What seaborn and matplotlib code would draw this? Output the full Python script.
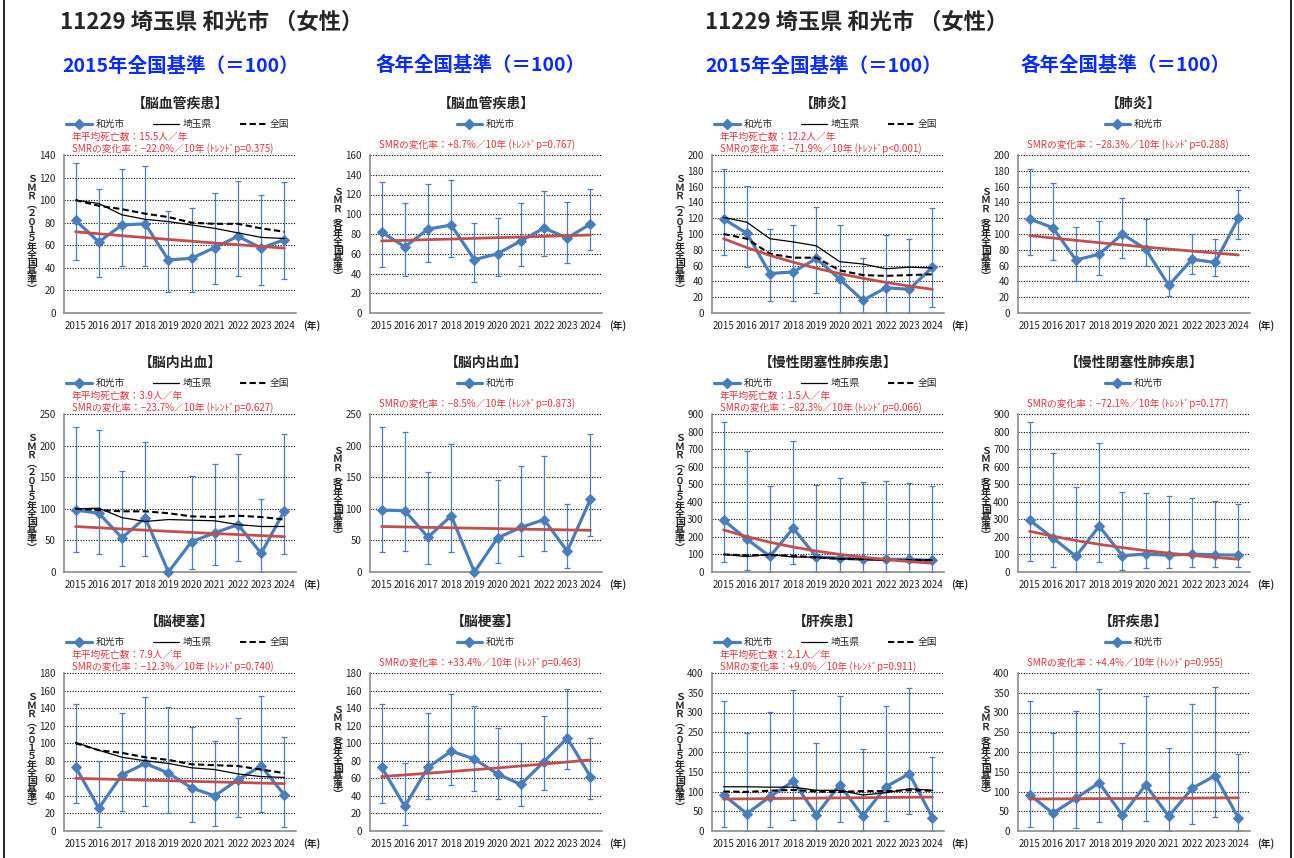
import numpy as np
import matplotlib
matplotlib.use("Agg")
import matplotlib.pyplot as plt
from matplotlib.lines import Line2D
import seaborn as sns

# ---------------------------------------------------------------- data
years = list(range(2015, 2025))

# 脳血管疾患
cvd_fixed_smr = [82, 63, 78, 79, 47, 48.5, 58, 68, 57.5, 65]
cvd_fixed_lo = [47, 32, 42, 42, 19, 19, 26, 33, 25, 30]
cvd_fixed_hi = [133, 110, 128, 130, 90, 93, 106, 117, 105, 116]
cvd_saitama = [100, 97, 87, 83, 81, 78, 75, 71, 67, 66]
cvd_japan = [100, 95, 92, 88, 85, 80, 79, 79, 75, 72]
cvd_fixed_trend = [72, 70.2, 68.5, 66.8, 65.2, 63.6, 62.0, 60.5, 59.0, 57.5]
cvd_annual_smr = [82, 67, 85, 89, 54, 60, 73, 86, 76, 90]
cvd_annual_lo = [47, 37, 52, 57, 31, 37, 48, 58, 51, 64]
cvd_annual_hi = [133, 111, 131, 135, 91, 96, 111, 124, 112, 126]
cvd_annual_trend = [73.0, 73.6, 74.3, 74.9, 75.6, 76.3, 76.9, 77.6, 78.3, 79.0]

# 肺炎
pneu_fixed_smr = [119, 101, 50, 52, 69, 43, 16, 32, 30, 58]
pneu_fixed_lo = [74, 58, 15, 15, 25, 0, 0, 0, 0, 7]
pneu_fixed_hi = [182, 161, 106, 111, 134, 112, 70, 99, 94, 133]
pneu_saitama = [121, 115, 94, 90, 85, 65, 62, 56, 58, 57]
pneu_japan = [100, 94, 75, 70, 70, 54, 48, 47, 48, 49]
pneu_fixed_trend = [94, 82.8, 72.9, 64.3, 56.6, 49.9, 43.9, 38.7, 34.1, 30.0]
pneu_annual_smr = [119, 108, 67, 74.5, 100, 81, 35, 68, 64, 120]
pneu_annual_lo = [74, 67, 41, 48, 69, 59, 22, 50, 47, 94]
pneu_annual_hi = [182, 165, 109, 116, 145, 119, 60, 100, 94, 156]
pneu_annual_trend = [98, 94.9, 91.9, 89.0, 86.2, 83.5, 80.9, 78.4, 75.9, 73.5]

# 脳内出血
ich_fixed_smr = [98, 93, 54, 86, 0, 48, 62, 75, 29.5, 97]
ich_fixed_lo = [32, 28, 10, 25, 0, 5, 11, 18, 0, 28]
ich_fixed_hi = [230, 224, 160, 205, 0, 152, 171, 187, 115, 219]
ich_saitama = [100, 101, 86, 80, 83, 82, 81, 75, 72, 72]
ich_japan = [100, 98, 96, 96, 93, 88, 87, 89, 87, 83]
ich_fixed_trend = [72, 70.0, 68.1, 66.2, 64.4, 62.6, 60.9, 59.2, 57.6, 56.0]
ich_annual_smr = [98, 97, 55, 89, 0, 54, 70.5, 83, 33, 115]
ich_annual_lo = [32, 33, 12, 31, 0, 15, 25, 33, 7, 57]
ich_annual_hi = [230, 222, 159, 203, 0, 146, 167, 183, 108, 218]
ich_annual_trend = [72, 71.3, 70.6, 69.9, 69.3, 68.6, 67.9, 67.3, 66.6, 66.0]

# 慢性閉塞性肺疾患
copd_fixed_smr = [295, 187, 89, 250, 85, 79, 72, 72, 72, 66]
copd_fixed_lo = [58, 10, 0, 43, 0, 0, 0, 0, 0, 0]
copd_fixed_hi = [853, 690, 488, 745, 497, 537, 512, 519, 507, 490]
copd_saitama = [100, 88, 100, 85, 85, 75, 75, 65, 68, 68]
copd_japan = [100, 95, 97, 93, 82, 75, 73, 70, 67, 68]
copd_fixed_trend = [240, 201.6, 169.4, 142.3, 119.5, 100.4, 84.3, 70.8, 59.5, 50.0]
copd_annual_smr = [295, 195, 89, 261, 93, 102, 96, 102, 98, 96]
copd_annual_lo = [60, 30, 0, 58, 12, 25, 25, 28, 28, 28]
copd_annual_hi = [855, 678, 487, 737, 458, 452, 432, 423, 407, 390]
copd_annual_trend = [232, 204.0, 179.4, 157.8, 138.8, 122.0, 107.3, 94.4, 83.0, 73.0]

# 脳梗塞
inf_fixed_smr = [73, 26, 64, 77, 66, 49, 40, 58.6, 74, 41]
inf_fixed_lo = [32, 4, 23, 29, 21, 10, 6, 16, 22, 4]
inf_fixed_hi = [145, 80, 135, 153, 141, 118, 103, 129, 154, 107]
inf_saitama = [101, 92, 84, 80, 77, 72, 70, 65, 62, 61]
inf_japan = [100, 92, 89, 84, 81, 76, 75, 74, 70, 66]
inf_fixed_trend = [60, 59.3, 58.6, 57.9, 57.3, 56.6, 55.9, 55.3, 54.6, 54.0]
inf_annual_smr = [73, 28, 72.5, 91, 82, 65, 53, 79, 106, 62]
inf_annual_lo = [32, 7, 36, 52, 46, 36, 28, 47, 71, 37]
inf_annual_hi = [145, 78, 135, 156, 142, 117, 100, 131, 162, 106]
inf_annual_trend = [62, 63.9, 65.8, 67.8, 69.8, 71.9, 74.1, 76.3, 78.6, 81.0]

# 肝疾患
liver_fixed_smr = [91, 44, 87, 126, 41, 117, 38, 112, 145, 34]
liver_fixed_lo = [10, 0, 10, 27, 0, 22, 0, 25, 42, 0]
liver_fixed_hi = [329, 249, 302, 358, 222, 342, 207, 317, 363, 188]
liver_saitama = [112, 112, 111, 111, 103, 103, 91, 97, 107, 103]
liver_japan = [100, 99, 102, 104, 100, 99, 101, 101, 103, 102]
liver_fixed_trend = [81, 81.5, 82.1, 82.6, 83.2, 83.8, 84.3, 84.9, 85.4, 86.0]
liver_annual_smr = [92, 45, 83, 122, 40, 117, 37, 108, 140, 33]
liver_annual_lo = [10, 0, 7, 22, 0, 25, 0, 17, 35, 0]
liver_annual_hi = [330, 248, 305, 360, 224, 342, 211, 321, 365, 194]
liver_annual_trend = [81, 81.3, 81.7, 82.0, 82.3, 82.7, 83.0, 83.3, 83.7, 84.0]

diseases = [
    dict(name="【脳血管疾患】", deaths="15.5", ymax=140, step=20,
         fixed=(cvd_fixed_smr, cvd_fixed_lo, cvd_fixed_hi, cvd_fixed_trend),
         annual=(cvd_annual_smr, cvd_annual_lo, cvd_annual_hi, cvd_annual_trend),
         ymax_annual=160, saitama=cvd_saitama, japan=cvd_japan,
         note_fixed="−22.0%／10年 (ﾄﾚﾝﾄﾞp=0.375)", note_annual="+8.7%／10年 (ﾄﾚﾝﾄﾞp=0.767)"),
    dict(name="【肺炎】", deaths="12.2", ymax=200, step=20,
         fixed=(pneu_fixed_smr, pneu_fixed_lo, pneu_fixed_hi, pneu_fixed_trend),
         annual=(pneu_annual_smr, pneu_annual_lo, pneu_annual_hi, pneu_annual_trend),
         ymax_annual=200, saitama=pneu_saitama, japan=pneu_japan,
         note_fixed="−71.9%／10年 (ﾄﾚﾝﾄﾞp<0.001)", note_annual="−28.3%／10年 (ﾄﾚﾝﾄﾞp=0.288)"),
    dict(name="【脳内出血】", deaths="3.9", ymax=250, step=50,
         fixed=(ich_fixed_smr, ich_fixed_lo, ich_fixed_hi, ich_fixed_trend),
         annual=(ich_annual_smr, ich_annual_lo, ich_annual_hi, ich_annual_trend),
         ymax_annual=250, saitama=ich_saitama, japan=ich_japan,
         note_fixed="−23.7%／10年 (ﾄﾚﾝﾄﾞp=0.627)", note_annual="−8.5%／10年 (ﾄﾚﾝﾄﾞp=0.873)"),
    dict(name="【慢性閉塞性肺疾患】", deaths="1.5", ymax=900, step=100,
         fixed=(copd_fixed_smr, copd_fixed_lo, copd_fixed_hi, copd_fixed_trend),
         annual=(copd_annual_smr, copd_annual_lo, copd_annual_hi, copd_annual_trend),
         ymax_annual=900, saitama=copd_saitama, japan=copd_japan,
         note_fixed="−82.3%／10年 (ﾄﾚﾝﾄﾞp=0.066)", note_annual="−72.1%／10年 (ﾄﾚﾝﾄﾞp=0.177)"),
    dict(name="【脳梗塞】", deaths="7.9", ymax=180, step=20,
         fixed=(inf_fixed_smr, inf_fixed_lo, inf_fixed_hi, inf_fixed_trend),
         annual=(inf_annual_smr, inf_annual_lo, inf_annual_hi, inf_annual_trend),
         ymax_annual=180, saitama=inf_saitama, japan=inf_japan,
         note_fixed="−12.3%／10年 (ﾄﾚﾝﾄﾞp=0.740)", note_annual="+33.4%／10年 (ﾄﾚﾝﾄﾞp=0.463)"),
    dict(name="【肝疾患】", deaths="2.1", ymax=400, step=50,
         fixed=(liver_fixed_smr, liver_fixed_lo, liver_fixed_hi, liver_fixed_trend),
         annual=(liver_annual_smr, liver_annual_lo, liver_annual_hi, liver_annual_trend),
         ymax_annual=400, saitama=liver_saitama, japan=liver_japan,
         note_fixed="+9.0%／10年 (ﾄﾚﾝﾄﾞp=0.911)", note_annual="+4.4%／10年 (ﾄﾚﾝﾄﾞp=0.955)"),
]

header = "11229 埼玉県 和光市 （女性）"
base_fixed_label = "2015年全国基準（＝100）"
base_annual_label = "各年全国基準（＝100）"
ylabel_fixed = "ＳＭＲ︵２０１５年全国基準︶"
ylabel_annual = "ＳＭＲ︵各年全国基準︶"

# ---------------------------------------------------------------- style
sns.set_style("white")
plt.rcParams["font.family"] = ["Noto Sans CJK JP", "DejaVu Sans"]

BLUE = "#4A7EBB"
TREND = "#C0504D"
NOTE = "#E0363A"
GRAY = "#8C8C8C"
TITLE_BLUE = "#0A2BFF"

W, H = 1294, 858
fig = plt.figure(figsize=(W / 100, H / 100), dpi=100)


def fx(x):
    return x / W


def fy(y):
    return 1 - y / H


col_left = [64, 370, 712, 1018]
row_top = [155, 414, 673]
AW, AH = 232, 158


def draw_panel(ax, d, annual, left, top):
    smr, lo, hi, trend = d["annual"] if annual else d["fixed"]
    ymax = d["ymax_annual"] if annual else d["ymax"]
    step = d["step"]
    smr_a = np.array(smr, float)
    yerr = [smr_a - np.array(lo, float), np.array(hi, float) - smr_a]

    ax.errorbar(years, smr, yerr=yerr, fmt="none", ecolor=BLUE,
                elinewidth=0.9, capsize=2.2, capthick=0.9, zorder=2)
    sns.lineplot(x=years, y=smr, ax=ax, color=BLUE, lw=2.3, marker="D",
                 markersize=5.5, markeredgecolor=BLUE, clip_on=False, zorder=4)
    if not annual:
        sns.lineplot(x=years, y=d["saitama"], ax=ax, color="black", lw=0.9, zorder=5)
        sns.lineplot(x=years, y=d["japan"], ax=ax, color="black", lw=1.5,
                     linestyle=(0, (3, 1.6)), zorder=5)
    sns.lineplot(x=years, y=trend, ax=ax, color=TREND, lw=2.0, zorder=6)

    ax.set_xlim(2014.5, 2024.5)
    ax.set_ylim(0, ymax)
    ax.set_yticks(np.arange(0, ymax + 1, step))
    ax.set_xticks(years)
    ax.set_xticklabels([str(y) for y in years])
    ax.set_xticks(np.arange(2014.5, 2025, 1), minor=True)
    ax.tick_params(axis="x", which="major", length=0, labelsize=7, pad=6,
                   labelcolor="#222222")
    ax.tick_params(axis="x", which="minor", length=3.5, width=0.8, color=GRAY)
    ax.tick_params(axis="y", length=3, width=0.8, color=GRAY, labelsize=7,
                   pad=3, labelcolor="#222222")
    for s in ("top", "right"):
        ax.spines[s].set_visible(False)
    for s in ("left", "bottom"):
        ax.spines[s].set_color(GRAY)
        ax.spines[s].set_linewidth(1.2)
    ax.grid(axis="y", color="black", lw=0.8, linestyle=(0, (1, 1.4)))
    ax.grid(axis="x", visible=False)
    ax.set_axisbelow(True)
    ax.set_xlabel("")
    ax.set_ylabel("")

    # title
    cx = left + AW / 2
    fig.text(fx(cx), fy(top - 51), d["name"], ha="center", va="center",
             fontsize=10, fontweight="bold")

    # legend
    h_city = Line2D([], [], color=BLUE, lw=2.3, marker="D", ms=5.5)
    if annual:
        ax.legend([h_city], ["和光市"], loc="center",
                  bbox_to_anchor=(0.5, 1 + 31 / AH), frameon=False, fontsize=7,
                  handlelength=2.6, handletextpad=0.4, borderpad=0,
                  borderaxespad=0)
        fig.text(fx(left + 9), fy(top - 10), "SMRの変化率：" + d["note_annual"],
                 ha="left", va="center", fontsize=7, color=NOTE)
    else:
        h_pref = Line2D([], [], color="black", lw=0.9)
        h_nat = Line2D([], [], color="black", lw=1.5, linestyle=(0, (3, 1.6)))
        ax.legend([h_city, h_pref, h_nat], ["和光市", "埼玉県", "全国"],
                  loc="center", bbox_to_anchor=(0.01, 1 + 31 / AH, 0.96, 0),
                  mode="expand", ncol=3, frameon=False, fontsize=7,
                  handlelength=2.6, handletextpad=0.4, borderpad=0,
                  borderaxespad=0)
        fig.text(fx(left + 8), fy(top - 18), "年平均死亡数：" + d["deaths"] + "人／年",
                 ha="left", va="center", fontsize=7, color=NOTE)
        fig.text(fx(left + 8), fy(top - 6), "SMRの変化率：" + d["note_fixed"],
                 ha="left", va="center", fontsize=7, color=NOTE)

    # vertical y label, one glyph per row
    label = ylabel_annual if annual else ylabel_fixed
    n = len(label)
    stepy = 8.4
    cy = top + AH / 2
    y0 = cy - (n - 1) * stepy / 2
    for i, ch in enumerate(label):
        fig.text(fx(left - 32), fy(y0 + i * stepy), ch, ha="center",
                 va="center", fontsize=7.2, fontweight="bold")

    # unit label
    fig.text(fx(left + AW + 16), fy(top + AH + 13), "(年)", ha="center",
             va="center", fontsize=7, fontweight="bold")


layout = [(0, 1), (2, 3), (4, 5)]
for r, (left_d, right_d) in enumerate(layout):
    for side, di in enumerate((left_d, right_d)):
        d = diseases[di]
        for k, annual in enumerate((False, True)):
            c = side * 2 + k
            left, top = col_left[c], row_top[r]
            ax = fig.add_axes([fx(left), fy(top + AH), AW / W, AH / H])
            draw_panel(ax, d, annual, left, top)

# headers
for x0 in (60, 705):
    fig.text(fx(x0), fy(22), header, ha="left", va="center", fontsize=16,
             fontweight="bold")
fig.text(fx(62), fy(66), base_fixed_label, ha="left", va="center",
         fontsize=14, fontweight="bold", color=TITLE_BLUE)
fig.text(fx(375), fy(65), base_annual_label, ha="left", va="center",
         fontsize=14, fontweight="bold", color=TITLE_BLUE)
fig.text(fx(705), fy(66), base_fixed_label, ha="left", va="center",
         fontsize=14, fontweight="bold", color=TITLE_BLUE)
fig.text(fx(1020), fy(65), base_annual_label, ha="left", va="center",
         fontsize=14, fontweight="bold", color=TITLE_BLUE)

# outer frame
for xe in (3.5, 1290.5):
    fig.add_artist(Line2D([fx(xe), fx(xe)], [0, 1], color="black", lw=1.2,
                          transform=fig.transFigure))

fig.savefig("out.png", dpi=100, facecolor="white")
